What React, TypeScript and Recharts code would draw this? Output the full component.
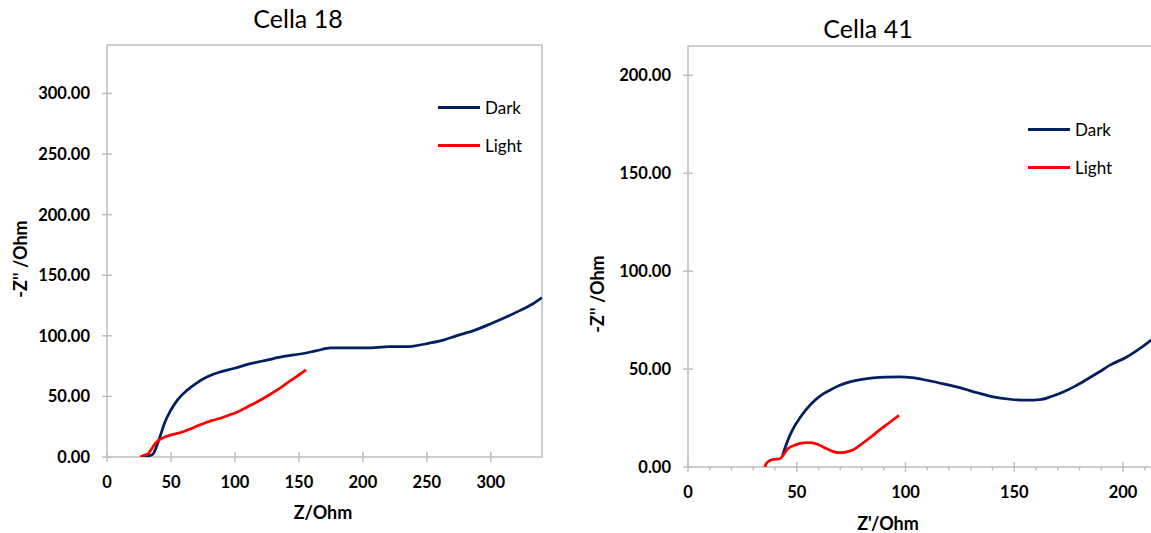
import { Legend, Line, LineChart, ReferenceArea, XAxis, YAxis } from 'recharts';

const AXIS_GREY = '#bfbfbf';
const DARK_BLUE = '#002060';
const RED = '#ff0000';
const FONT = 'Lato, "Open Sans", sans-serif';

// Cella 18 (Z / -Z'')
const c18DarkZ = [28, 33, 36, 38.5, 41.5, 45, 49.5, 55, 62.5, 70, 78, 88, 99, 112, 125, 138, 151, 163, 175, 190, 203, 221, 234, 252, 263, 273, 287, 300, 312, 323, 333, 340];
const c18DarkZ2 = [0, 1, 2.5, 8, 17, 28, 38, 47, 55, 61, 66, 70, 73, 77, 80, 83, 85, 87.5, 90, 90, 90, 91, 91, 94, 96.5, 100, 104.5, 110, 115.5, 121, 126.5, 131.5];
const c18LightZ = [26, 29, 32, 34.5, 37, 40, 44, 49.5, 55, 60, 67, 75, 82, 88.5, 95, 101.5, 110, 120, 128, 135.5, 142, 149, 155.5];
const c18LightZ2 = [0, 1.5, 2.5, 6, 10, 13.5, 16, 18, 19.5, 21, 24, 27.5, 30, 32, 34.5, 37, 41.5, 47, 52, 57, 62, 67, 72];

// Cella 41 (Z' / -Z'')
const c41DarkZ = [43.5, 45, 46.8, 48.8, 51.4, 54.3, 57.5, 61, 65.2, 69.5, 74.4, 80, 85.1, 91, 97.4, 103, 109.7, 118, 126.5, 133, 140.3, 148, 155.7, 161.8, 167, 172.5, 178, 183.3, 189, 194, 201.7, 207, 213, 217];
const c41DarkZ2 = [6, 11, 16, 20.5, 25, 29.3, 33.2, 36.5, 39.2, 41.6, 43.5, 44.8, 45.5, 45.9, 46, 45.6, 44.3, 42.3, 40, 37.9, 35.8, 34.6, 34.1, 34.4, 36, 38.3, 41.3, 44.7, 48.5, 52, 56.2, 60, 64.8, 68];
const c41LightZ = [35.3, 36, 37.5, 39.5, 42.2, 43.7, 46, 49.5, 53, 56.5, 60, 63.5, 66.5, 69, 72, 75.5, 79, 83.5, 88, 92.5, 97];
const c41LightZ2 = [0, 1.8, 3.2, 3.9, 4.2, 6, 9.4, 11.3, 12.3, 12.4, 11.4, 9.5, 8, 7.3, 7.5, 8.5, 11.1, 14.8, 18.8, 22.6, 26.4];

const c18XTicks = [0, 50, 100, 150, 200, 250, 300];
const c18YTicks = [0, 50, 100, 150, 200, 250, 300];
const c41XTicks = [0, 10, 20, 30, 40, 50, 60, 70, 80, 90, 100, 110, 120, 130, 140, 150, 160, 170, 180, 190, 200, 210];
const c41YTicks = [0, 50, 100, 150, 200];

const toPoints = (xs: number[], ys: number[]) => xs.map((x, i) => ({ x, y: ys[i] }));

function XTick(props: any) {
  const { x, y, payload } = props;
  const major = payload.value % 50 === 0;
  return (
    <g>
      <line
        x1={x}
        x2={x}
        y1={major ? y - 5 : y}
        y2={major ? y + 5 : y + 3.5}
        stroke={AXIS_GREY}
        strokeWidth={1.5}
      />
      {major && (
        <text
          x={x}
          y={y + 25}
          textAnchor="middle"
          dominantBaseline="central"
          fontFamily={FONT}
          fontWeight={700}
          fontSize={16.5}
          fill="#000"
        >
          {payload.value}
        </text>
      )}
    </g>
  );
}

function YTick(props: any) {
  const { x, y, payload } = props;
  return (
    <g>
      <line x1={x - 5} x2={x + 5} y1={y} y2={y} stroke={AXIS_GREY} strokeWidth={1.5} />
      <text
        x={x - 17}
        y={y}
        textAnchor="end"
        dominantBaseline="central"
        fontFamily={FONT}
        fontWeight={700}
        fontSize={16.5}
        fill="#000"
      >
        {Number(payload.value).toFixed(2)}
      </text>
    </g>
  );
}

function LegendBox({ payload }: any) {
  return (
    <div style={{ fontFamily: FONT, fontSize: 17, color: '#000' }}>
      {(payload ?? []).map((item: any) => (
        <div key={item.value} style={{ display: 'flex', alignItems: 'center', height: 37.5 }}>
          <span style={{ display: 'inline-block', width: 42, height: 3, background: item.color, marginRight: 5 }} />
          <span>{item.value}</span>
        </div>
      ))}
    </div>
  );
}

interface PanelProps {
  dark: { x: number; y: number }[];
  light: { x: number; y: number }[];
  xMax: number;
  yMax: number;
  xTicks: number[];
  yTicks: number[];
  width: number;
  margin: { top: number; right: number; left: number; bottom: number };
  yAxisWidth: number;
  xAxisHeight: number;
  legendTop: number;
}

function Panel(p: PanelProps) {
  return (
    <LineChart width={p.width} height={533} margin={p.margin}>
      <XAxis
        type="number"
        dataKey="x"
        domain={[0, p.xMax]}
        ticks={p.xTicks}
        interval={0}
        allowDataOverflow
        axisLine={false}
        tickLine={false}
        tickSize={0}
        tickMargin={0}
        height={p.xAxisHeight}
        tick={(t: any) => <XTick {...t} />}
      />
      <YAxis
        type="number"
        dataKey="y"
        domain={[0, p.yMax]}
        ticks={p.yTicks}
        interval={0}
        allowDataOverflow
        axisLine={false}
        tickLine={false}
        tickSize={0}
        tickMargin={0}
        width={p.yAxisWidth}
        tick={(t: any) => <YTick {...t} />}
      />
      <ReferenceArea
        x1={0}
        x2={p.xMax}
        y1={0}
        y2={p.yMax}
        fill="none"
        stroke={AXIS_GREY}
        strokeWidth={1.5}
        ifOverflow="visible"
      />
      <Legend
        layout="vertical"
        align="center"
        verticalAlign="middle"
        content={<LegendBox />}
        wrapperStyle={{ left: 438, top: p.legendTop, width: 120 }}
      />
      <Line
        data={p.dark}
        dataKey="y"
        name="Dark"
        type="monotone"
        stroke={DARK_BLUE}
        strokeWidth={2.75}
        dot={false}
        isAnimationActive={false}
      />
      <Line
        data={p.light}
        dataKey="y"
        name="Light"
        type="monotone"
        stroke={RED}
        strokeWidth={2.75}
        dot={false}
        isAnimationActive={false}
      />
    </LineChart>
  );
}

export default function App() {
  return (
    <div
      style={{
        position: 'absolute',
        left: 0,
        top: 0,
        width: 1151,
        height: 533,
        overflow: 'hidden',
        background: '#fff',
      }}
    >
      <div style={{ position: 'absolute', left: 0, top: 0 }}>
        <Panel
          dark={toPoints(c18DarkZ, c18DarkZ2)}
          light={toPoints(c18LightZ, c18LightZ2)}
          xMax={340}
          yMax={340}
          xTicks={c18XTicks}
          yTicks={c18YTicks}
          width={580}
          margin={{ top: 45, right: 38, left: 0, bottom: 0 }}
          yAxisWidth={107}
          xAxisHeight={76}
          legendTop={89}
        />
      </div>
      <div style={{ position: 'absolute', left: 590, top: 0 }}>
        <Panel
          dark={toPoints(c41DarkZ, c41DarkZ2)}
          light={toPoints(c41LightZ, c41LightZ2)}
          xMax={217}
          yMax={215}
          xTicks={c41XTicks}
          yTicks={c41YTicks}
          width={600}
          margin={{ top: 46, right: 30, left: 0, bottom: 0 }}
          yAxisWidth={98}
          xAxisHeight={66}
          legendTop={111}
        />
      </div>
      <svg
        width={1151}
        height={533}
        style={{ position: 'absolute', left: 0, top: 0, pointerEvents: 'none' }}
        fontFamily={FONT}
      >
        <text x={298} y={18} textAnchor="middle" dominantBaseline="central" fontSize={25} fill="#000">
          Cella 18
        </text>
        <text x={868} y={28} textAnchor="middle" dominantBaseline="central" fontSize={25} fill="#000">
          Cella 41
        </text>
        <text x={323} y={512} textAnchor="middle" dominantBaseline="central" fontSize={18} fontWeight={700} fill="#000">
          Z/Ohm
        </text>
        <text x={888} y={523} textAnchor="middle" dominantBaseline="central" fontSize={18} fontWeight={700} fill="#000">
          Z'/Ohm
        </text>
        <text
          x={20}
          y={259}
          transform="rotate(-90 20 259)"
          textAnchor="middle"
          dominantBaseline="central"
          fontSize={18}
          fontWeight={700}
          fill="#000"
        >
          -Z'' /Ohm
        </text>
        <text
          x={597}
          y={294}
          transform="rotate(-90 597 294)"
          textAnchor="middle"
          dominantBaseline="central"
          fontSize={18}
          fontWeight={700}
          fill="#000"
        >
          -Z'' /Ohm
        </text>
      </svg>
    </div>
  );
}
